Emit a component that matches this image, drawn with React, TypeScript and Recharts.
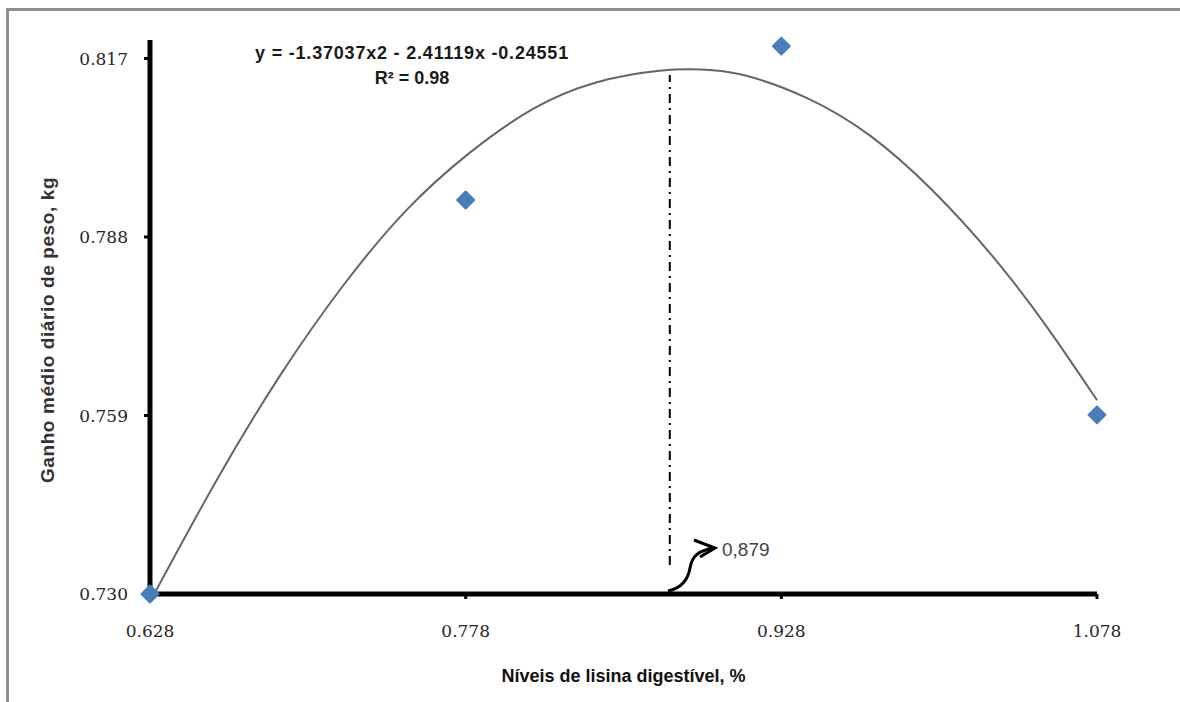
import { ComposedChart, Line, Scatter, XAxis, YAxis, ReferenceLine } from "recharts";

// axis ticks
const xTicks = [0.628, 0.778, 0.928, 1.078];
const yTicks = [0.73, 0.759, 0.788, 0.817];

// observed means (blue diamonds)
const lysineLevels = [0.628, 0.778, 0.928, 1.078];
const dailyGain = [0.73, 0.794, 0.819, 0.7591];

// fitted curve
const trendX = [0.63, 0.66, 0.69, 0.72, 0.75, 0.78, 0.81, 0.84, 0.87, 0.89, 0.91, 0.94, 0.97, 1.0, 1.03, 1.055, 1.078];
const trendY = [0.73, 0.7487, 0.7656, 0.7802, 0.7924, 0.8017, 0.8088, 0.8131, 0.815, 0.8152, 0.8143, 0.8106, 0.8045, 0.7955, 0.7842, 0.773, 0.7615];

// optimum marker
const optimumX = 0.875;
const optimumFrom = 0.7347;
const optimumTo = 0.8143;

const curve = trendX.map((x, i) => ({ x, y: trendY[i] }));
const points = lysineLevels.map((x, i) => ({ x, y: dailyGain[i] }));

const tickStyle = { fontFamily: "DejaVu Serif", fontSize: 17, fill: "#262626" };

function Diamond(props: any) {
  const { cx, cy } = props;
  if (cx == null || cy == null) return null;
  const r = 8.5;
  return (
    <path
      d={`M${cx},${cy - r}L${cx + r},${cy}L${cx},${cy + r}L${cx - r},${cy}Z`}
      fill="#4a7ebb"
      stroke="#4a7ebb"
      strokeWidth={2}
      strokeLinejoin="round"
    />
  );
}

function YTitle({ viewBox }: any) {
  const x = viewBox.x + 7;
  const y = viewBox.y + viewBox.height / 2 + 13;
  return (
    <text
      x={x}
      y={y}
      transform={`rotate(-90, ${x}, ${y})`}
      textAnchor="middle"
      dominantBaseline="central"
      fontFamily="Liberation Sans"
      fontWeight={700}
      fontSize={19}
      letterSpacing={0.6}
      fill="#333"
    >
      Ganho médio diário de peso, kg
    </text>
  );
}

export default function App() {
  return (
    <div style={{ position: "absolute", left: 0, top: 0, width: 1180, height: 702, overflow: "hidden", background: "#fff" }}>
      <div style={{ position: "absolute", left: 6, top: 8, width: 1300, height: 900, border: "3px solid #8f8f8f" }} />
      <div style={{ position: "absolute", left: 0, top: 0 }}>
        <ComposedChart width={1180} height={702} data={curve} margin={{ top: 40, right: 83, bottom: 8, left: 40 }}>
          <XAxis
            dataKey="x"
            type="number"
            domain={[0.628, 1.078]}
            ticks={xTicks}
            tickFormatter={(v: number) => v.toFixed(3)}
            height={100}
            axisLine={{ stroke: "#000", strokeWidth: 5 }}
            tickLine={{ stroke: "#000", strokeWidth: 3 }}
            tickSize={5}
            tickMargin={26}
            tick={tickStyle}
            label={{
              value: "Níveis de lisina digestível, %",
              position: "insideBottom",
              offset: 12,
              style: { fontFamily: "Liberation Sans", fontWeight: 700, fontSize: 18, fill: "#111" },
            }}
          />
          <YAxis
            type="number"
            domain={[0.73, 0.82]}
            ticks={yTicks}
            tickFormatter={(v: number) => v.toFixed(3)}
            width={110}
            axisLine={{ stroke: "#000", strokeWidth: 5 }}
            tickLine={{ stroke: "#000", strokeWidth: 3 }}
            tickSize={6}
            tickMargin={16}
            tick={tickStyle}
            label={{ content: YTitle }}
          />
          <ReferenceLine
            segment={[{ x: optimumX, y: optimumFrom }, { x: optimumX, y: optimumTo }]}
            stroke="#000"
            strokeWidth={2}
            strokeDasharray="9 5 2 5"
          />
          <Line
            dataKey="y"
            type="natural"
            stroke="#666"
            strokeWidth={2}
            dot={false}
            activeDot={false}
            isAnimationActive={false}
          />
          <Scatter data={points} dataKey="y" shape={<Diamond />} isAnimationActive={false} />
        </ComposedChart>
      </div>
      <svg width={1180} height={702} style={{ position: "absolute", left: 0, top: 0, pointerEvents: "none" }}>
        <text x={412} y={59} textAnchor="middle" fontFamily="Liberation Sans" fontWeight={700} fontSize={18} letterSpacing={0.8} fill="#1a1a1a">
          y = -1.37037x2 - 2.41119x -0.24551
        </text>
        <text x={412} y={84} textAnchor="middle" fontFamily="Liberation Sans" fontWeight={700} fontSize={18} fill="#1a1a1a">
          R² = 0.98
        </text>
        <path d="M668,591 C682,588 688,580 690,568 C692,556 698,551 713,548" fill="none" stroke="#000" strokeWidth={3} />
        <path d="M694,540 L715,548 L700,557" fill="none" stroke="#000" strokeWidth={3} />
        <text x={722} y={556} fontFamily="Liberation Sans" fontSize={19} fill="#444">
          0,879
        </text>
      </svg>
    </div>
  );
}
